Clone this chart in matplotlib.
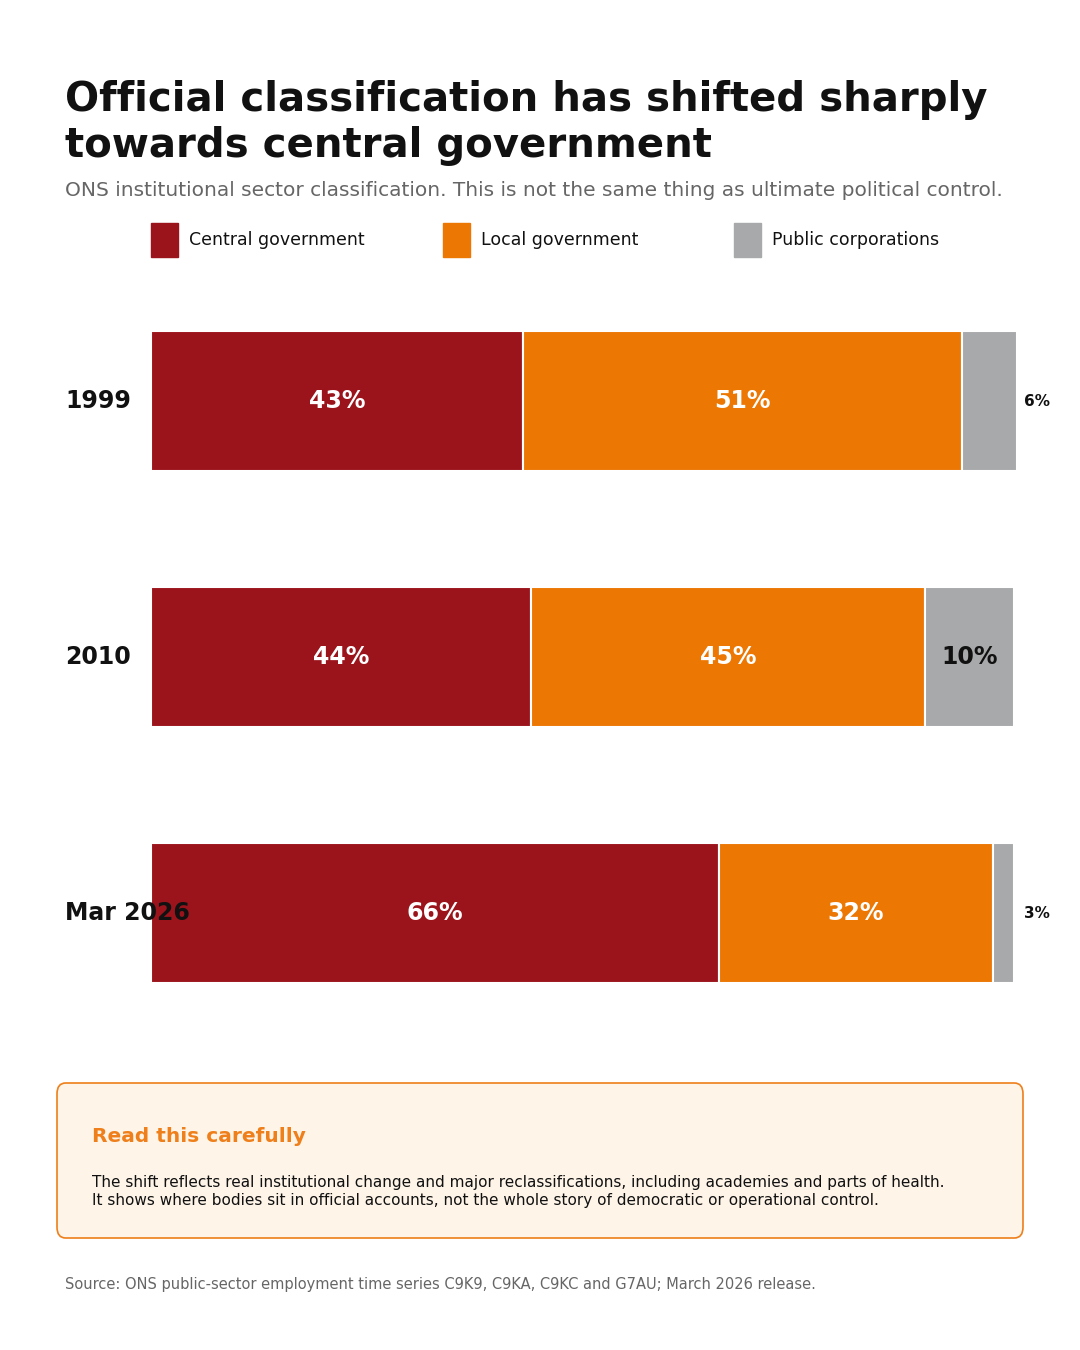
import matplotlib.pyplot as plt
from matplotlib.patches import FancyBboxPatch, Rectangle

years = ['1999', '2010', 'Mar 2026']
central = [43.0, 44.0, 65.7]
local = [50.8, 45.5, 31.7]
public = [6.4, 10.3, 2.4]
labels_central = ['43%', '44%', '66%']
labels_local = ['51%', '45%', '32%']
labels_public = ['6%', '10%', '3%']

c_central = '#9B141C'
c_local = '#EC7703'
c_public = '#A8A9AA'

W, H = 1080, 1350
fig = plt.figure(figsize=(10.8, 13.5), dpi=100)

def fx(px):
    return px / W

def fy(py):
    return 1 - py / H

# title block
fig.text(fx(65), fy(100), 'Official classification has shifted sharply', fontsize=29,
         fontweight='bold', color='#111111', va='center')
fig.text(fx(65), fy(146), 'towards central government', fontsize=29,
         fontweight='bold', color='#111111', va='center')
fig.text(fx(65), fy(191), 'ONS institutional sector classification. This is not the same thing as ultimate political control.',
         fontsize=14.5, color='#666666', va='center')

# legend
for x0, name, col in [(151, 'Central government', c_central),
                      (443, 'Local government', c_local),
                      (734, 'Public corporations', c_public)]:
    fig.patches.append(Rectangle((fx(x0), fy(257)), 27 / W, 34 / H,
                                 transform=fig.transFigure, color=col))
    fig.text(fx(x0 + 38), fy(240), name, fontsize=12.5, color='#111111', va='center')

# bars
ax = fig.add_axes([fx(151), fy(1041), (1015.5 - 151) / W, (1041 - 273) / H])
ax.set_xlim(0, 100)
ax.set_ylim(2.5, -0.5)
ax.axis('off')
h = 0.55
for i in range(len(years)):
    segs = [(central[i], c_central, labels_central[i]),
            (local[i], c_local, labels_local[i]),
            (public[i], c_public, labels_public[i])]
    left = 0
    for v, col, lab in segs:
        ax.barh(i, v, left=left, height=h, color=col, edgecolor='white', linewidth=1.5)
        if v >= 8:
            tc = 'white' if col != c_public else '#111111'
            ax.text(left + v / 2, i, lab, ha='center', va='center', fontsize=17,
                    fontweight='bold', color=tc)
        else:
            ax.text(101, i, lab, ha='left', va='center', fontsize=11,
                    fontweight='bold', color='#111111', clip_on=False)
        left += v
    fig.text(fx(65), fy(401 + 256 * i), years[i], fontsize=17, fontweight='bold',
             color='#111111', va='center')

# note box
box = FancyBboxPatch((fx(57), fy(1238)), (1023 - 57) / W, (1238 - 1083) / H,
                     boxstyle='round,pad=0,rounding_size=0.008', transform=fig.transFigure,
                     facecolor='#FEF4E8', edgecolor='#EE7F1A', linewidth=1.2)
fig.patches.append(box)
fig.text(fx(92), fy(1136), 'Read this carefully', fontsize=14.5, fontweight='bold',
         color='#EE7F1A', va='center')
fig.text(fx(92), fy(1191),
         'The shift reflects real institutional change and major reclassifications, including academies and parts of health.\n'
         'It shows where bodies sit in official accounts, not the whole story of democratic or operational control.',
         fontsize=11, color='#111111', va='center', linespacing=1.25)

fig.text(fx(65), fy(1284), 'Source: ONS public-sector employment time series C9K9, C9KA, C9KC and G7AU; March 2026 release.',
         fontsize=10.5, color='#666666', va='center')

fig.savefig('out.png', dpi=100, facecolor='white')
